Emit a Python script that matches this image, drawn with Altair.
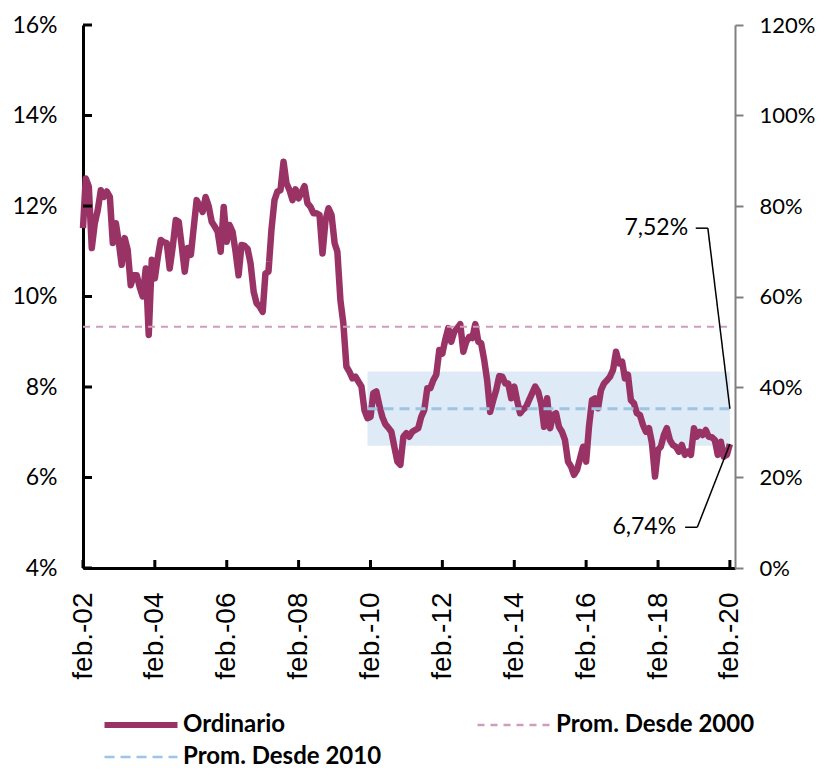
import altair as alt
import pandas as pd

# ---------------- data ----------------
# "Ordinario" monthly series (%), feb-2002 ... feb-2020
ordinario = [
    11.51, 12.61, 12.43, 11.07, 11.62, 11.91, 12.35, 12.20, 12.32, 12.20,
    11.18, 11.62, 11.18, 10.70, 11.29, 11.03, 10.25, 10.47, 10.47, 10.20,
    10.00, 10.62, 9.15, 10.81, 10.40, 10.85, 11.25, 11.20, 11.18, 10.62,
    11.10, 11.69, 11.65, 11.10, 10.55, 11.07, 10.92, 11.50, 12.13, 12.00,
    11.87, 12.20, 12.00, 11.65, 11.55, 11.43, 10.99, 11.98, 11.21, 11.58,
    11.43, 11.00, 10.47, 11.14, 11.12, 11.05, 10.73, 10.11, 9.85, 9.78,
    9.66, 10.51, 10.55, 11.47, 12.13, 12.32, 12.35, 12.98, 12.50, 12.35,
    12.13, 12.37, 12.17, 12.30, 12.44, 12.06, 11.98, 11.84, 11.84, 11.80,
    10.95, 11.69, 11.95, 11.80, 11.18, 10.99, 9.92, 9.40, 8.45, 8.34,
    8.19, 8.23, 8.12, 8.01, 7.49, 7.31, 7.34, 7.86, 7.90, 7.60,
    7.34, 7.18, 7.10, 7.01, 6.68, 6.35, 6.28, 6.90, 6.98, 6.90,
    7.01, 7.05, 7.09, 7.34, 7.49, 7.97, 7.97, 8.15, 8.27, 8.82,
    8.74, 9.04, 9.30, 9.00, 9.22, 9.30, 9.39, 8.78, 9.00, 9.11,
    9.08, 9.39, 9.00, 8.97, 8.60, 8.15, 7.45, 7.70, 7.93, 8.24,
    8.23, 8.08, 8.08, 7.75, 8.01, 7.71, 7.42, 7.50, 7.56, 7.71,
    7.86, 8.01, 7.90, 7.64, 7.12, 7.75, 7.09, 7.38, 7.42, 7.12,
    7.01, 6.83, 6.35, 6.24, 6.06, 6.17, 6.42, 6.68, 6.35, 7.12,
    7.71, 7.75, 7.53, 7.93, 8.08, 8.15, 8.23, 8.38, 8.78, 8.52,
    8.56, 8.19, 8.27, 7.71, 7.64, 7.42, 7.38, 7.16, 7.01, 7.09,
    6.76, 6.02, 6.61, 6.68, 6.94, 7.09, 6.83, 6.72, 6.68, 6.57,
    6.72, 6.50, 6.57, 6.50, 7.09, 6.90, 7.01, 6.94, 7.05, 6.90,
    6.89, 6.83, 6.50, 6.79, 6.46, 6.50, 6.74,
]
fechas = pd.date_range("2002-02-01", periods=len(ordinario), freq="MS").strftime("%Y-%m-%d").tolist()

# legend order is column-major: Ordinario / Prom. Desde 2010 in column 1, Prom. Desde 2000 in column 2
series = ["Ordinario", "Prom. Desde 2010", "Prom. Desde 2000"]
colores = ["#993366", "#9dc3e6", "#cf9cbd"]
guiones = [[1, 0], [10, 6], [7, 6]]

prom_2000 = 9.33
prom_2000_fechas = ["2002-02-01", "2020-02-01"]
prom_2010 = 7.52
prom_2010_fechas = ["2010-01-01", "2020-02-01"]
banda_fechas = ["2010-01-01", "2020-02-01"]
banda_valores = [6.70, 8.34]

eje_izq = [4, 6, 8, 10, 12, 14, 16]
eje_der = [0, 0.2, 0.4, 0.6, 0.8, 1.0, 1.2]
anios_ticks = list(range(2002, 2021, 2))
ticks_x = [f"{y}-02-01" for y in anios_ticks]

anot_textos = ["7,52%", "6,74%"]
anot_fechas = ["2018-12-04", "2018-08-04"]
anot_valores = [11.51, 4.90]
guia_f1 = ["2019-02-19", "2019-06-22", "2018-11-03", "2019-03-07"]
guia_v1 = [11.51, 11.51, 4.90, 4.90]
guia_f2 = ["2019-06-22", "2020-02-01", "2019-03-07", "2020-02-01"]
guia_v2 = [11.51, 7.52, 4.90, 6.74]

# ---------------- tables ----------------
rows = [{"fecha": f, "valor": v, "serie": "Ordinario", "ancho": 6.5} for f, v in zip(fechas, ordinario)]
rows += [{"fecha": f, "valor": prom_2000, "serie": "Prom. Desde 2000", "ancho": 2} for f in prom_2000_fechas]
rows += [{"fecha": f, "valor": prom_2010, "serie": "Prom. Desde 2010", "ancho": 3} for f in prom_2010_fechas]
df_lines = pd.DataFrame(rows)
df_band = pd.DataFrame({"f1": [banda_fechas[0]], "f2": [banda_fechas[1]],
                        "v1": [banda_valores[0]], "v2": [banda_valores[1]]})
df_ann = pd.DataFrame({"fecha": anot_fechas, "valor": anot_valores, "texto": anot_textos})
df_guide = pd.DataFrame({"f1": guia_f1, "v1": guia_v1, "f2": guia_f2, "v2": guia_v2})

W, H = 652, 543
FONT = "Lato"

xscale = alt.Scale(domain=[alt.DateTime(year=2002, month=2, date=1),
                           alt.DateTime(year=2020, month=3, date=24)])
yscale = alt.Scale(domain=[4, 16], nice=False, zero=False)

x_axis = alt.Axis(
    values=[alt.DateTime(year=y, month=2, date=1) for y in anios_ticks],
    labelExpr="'feb.-' + timeFormat(datum.value, '%y')", title=None, grid=False,
    ticks=False, tickSize=0, domainColor="black", domainWidth=3, labelAngle=270,
    labelPadding=24, labelFont="Liberation Sans", labelFontSize=28, labelColor="black")
y_axis = alt.Axis(
    values=eje_izq, labelExpr="datum.value + '%'", title=None, grid=False,
    ticks=False, tickSize=0, domainColor="black", domainWidth=3,
    labelPadding=26, labelFont=FONT, labelFontSize=23, labelColor="black")

band = alt.Chart(df_band).mark_rect(color="#deebf7").encode(
    x=alt.X("f1:T", scale=xscale, axis=x_axis),
    x2="f2:T",
    y=alt.Y("v1:Q", scale=yscale, axis=y_axis),
    y2="v2:Q",
)

leg = alt.Legend(
    title=None, orient="none", legendX=20, legendY=684, columns=2,
    columnPadding=94, rowPadding=0, clipHeight=32, symbolType="stroke",
    symbolSize=5329, symbolStrokeWidth={"expr": "(datum.value == 'Ordinario' ? 6 : 2.5)"},
    labelFont=FONT, labelFontSize=24, labelFontWeight="bold", labelColor="black",
    labelLimit=400, labelOffset=4, padding=0, symbolOffset=0,
)

lines = alt.Chart(df_lines).mark_line(strokeJoin="round").encode(
    x=alt.X("fecha:T", scale=xscale, axis=x_axis),
    y=alt.Y("valor:Q", scale=yscale, axis=y_axis),
    color=alt.Color("serie:N", scale=alt.Scale(domain=series, range=colores), legend=leg),
    strokeDash=alt.StrokeDash("serie:N", scale=alt.Scale(domain=series, range=guiones), legend=leg),
    strokeWidth=alt.StrokeWidth("ancho:Q", scale=None),
    detail="serie:N",
)

left_ticks = alt.Chart(pd.DataFrame({"v": eje_izq})).mark_rule(color="black", strokeWidth=3).encode(
    y=alt.Y("v:Q", scale=yscale, axis=y_axis), x=alt.value(0), x2=alt.value(9))

bottom_ticks = alt.Chart(pd.DataFrame({"f": ticks_x})).mark_rule(color="black", strokeWidth=3).encode(
    x=alt.X("f:T", scale=xscale, axis=x_axis), y=alt.value(H), y2=alt.value(H - 8))

guides = alt.Chart(df_guide).mark_rule(color="black", strokeWidth=1.5).encode(
    x=alt.X("f1:T", scale=xscale, axis=x_axis), x2="f2:T",
    y=alt.Y("v1:Q", scale=yscale, axis=y_axis), y2="v2:Q")

ann = alt.Chart(df_ann).mark_text(align="right", baseline="middle", font=FONT, fontSize=23,
                                  color="black").encode(
    x=alt.X("fecha:T", scale=xscale, axis=x_axis),
    y=alt.Y("valor:Q", scale=yscale, axis=y_axis),
    text="texto:N")

left_group = alt.layer(band, lines, left_ticks, bottom_ticks, guides, ann)

right = alt.Chart(pd.DataFrame({"d": eje_der})).mark_point(opacity=0).encode(
    y=alt.Y("d:Q", scale=alt.Scale(domain=[0, 1.2], nice=False, zero=False), axis=alt.Axis(
        orient="right", values=eje_der, format=".0%", title=None, grid=False,
        domainColor="#808080", domainWidth=2, tickColor="#808080", tickWidth=2,
        tickSize=8, labelPadding=16, labelFont=FONT, labelFontSize=22, labelColor="black")))

chart = alt.layer(left_group, right).resolve_scale(y="independent").properties(
    width=W, height=H,
    padding={"left": 75, "top": 17, "right": 81, "bottom": 210},
    autosize=alt.AutoSizeParams(type="none"),
    background="white",
).configure_view(stroke=None)

chart.save("out.html", embed_options={"renderer": "svg", "actions": False})
